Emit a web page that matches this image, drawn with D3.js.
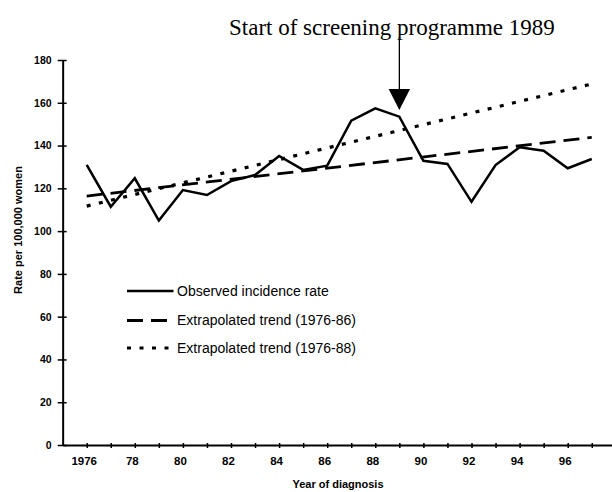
<!DOCTYPE html>
<html>
<head>
<meta charset="utf-8">
<script src="https://cdn.jsdelivr.net/npm/d3@7"></script>
<style>
  html, body { margin: 0; padding: 0; background: #fff; }
  svg { display: block; }
</style>
</head>
<body>
<div id="chart"></div>
<script>
// Chart data.
const years = [1976, 1977, 1978, 1979, 1980, 1981, 1982, 1983, 1984, 1985, 1986,
  1987, 1988, 1989, 1990, 1991, 1992, 1993, 1994, 1995, 1996, 1997];
const observedRates = [131, 111.4, 124.7, 104.9, 119.2, 116.9, 123.4, 126.2, 135.1, 128.6, 130.6,
  151.6, 157.4, 153.5, 132.9, 131.4, 113.7, 130.9, 139.2, 137.6, 129.4, 133.7];

// Trend lines are straight, so only their end points are kept.
const trendYears = [1976, 1997];
const trend7686 = [116.4, 143.8];
const trend7688 = [111.7, 168.8];

const yTicks = [0, 20, 40, 60, 80, 100, 120, 140, 160, 180];
const xTickYears = [1976, 1978, 1980, 1982, 1984, 1986, 1988, 1990, 1992, 1994, 1996];
const xTickLabels = ['1976', '78', '80', '82', '84', '86', '88', '90', '92', '94', '96'];

const legendLabels = [
  'Observed incidence rate',
  'Extrapolated trend (1976-86)',
  'Extrapolated trend (1976-88)'
];
const screeningYear = 1989;
const titleText = 'Start of screening programme 1989';

const attrs = {
  svgWidth: 612,
  svgHeight: 492,
  sans: '"Liberation Sans", Arial, sans-serif',
  serif: '"Liberation Serif", "Times New Roman", serif'
};

const svg = d3.select('#chart').append('svg')
  .attr('width', attrs.svgWidth)
  .attr('height', attrs.svgHeight);

// Scales.
const x = d3.scaleLinear()
  .domain([1975, 1998])
  .range([62.65, 62.65 + 23 * 24.05]);

const y = d3.scaleLinear()
  .domain([0, 180])
  .range([445, 60]);

// Y axis, ticks cross the axis line.
const yAxis = svg.append('g')
  .attr('transform', 'translate(' + x(1975) + ',0)')
  .call(d3.axisLeft(y).tickValues(yTicks).tickSize(5).tickPadding(6).tickSizeOuter(0));

yAxis.select('.domain').attr('stroke', '#000').attr('stroke-width', 2);
yAxis.selectAll('.tick line').attr('x1', 4).attr('x2', -5).attr('stroke-width', 1.5);
yAxis.selectAll('.tick text')
  .attr('font-family', attrs.sans)
  .attr('font-weight', 'bold')
  .attr('font-size', 10.5)
  .attr('fill', '#000');

// X axis, a tick every year, a label every other year.
const labelByYear = new Map(xTickYears.map((d, i) => [d, xTickLabels[i]]));
const allTickYears = d3.range(1976, 1998);

const xAxis = svg.append('g')
  .attr('transform', 'translate(0,' + y(0) + ')')
  .call(d3.axisBottom(x)
    .tickValues(allTickYears)
    .tickFormat(d => labelByYear.get(d) || '')
    .tickSize(3)
    .tickPadding(9)
    .tickSizeOuter(0));

xAxis.select('.domain').attr('stroke', '#000').attr('stroke-width', 2);
xAxis.selectAll('.tick line').attr('y1', -2).attr('stroke-width', 1.5);
xAxis.selectAll('.tick text')
  .attr('dx', -3)
  .attr('font-family', attrs.sans)
  .attr('font-weight', 'bold')
  .attr('font-size', 11.5)
  .attr('fill', '#000');

// Axis titles.
svg.append('text')
  .attr('x', 338)
  .attr('y', 488)
  .attr('text-anchor', 'middle')
  .attr('font-family', attrs.sans)
  .attr('font-weight', 'bold')
  .attr('font-size', 11)
  .text('Year of diagnosis');

svg.append('text')
  .attr('transform', 'translate(21.5,230) rotate(-90)')
  .attr('text-anchor', 'middle')
  .attr('font-family', attrs.sans)
  .attr('font-weight', 'bold')
  .attr('font-size', 11)
  .text('Rate per 100,000 women');

// Lines.
const line = d3.line()
  .x(d => x(d[0]))
  .y(d => y(d[1]));

const series = [
  { values: d3.zip(trendYears, trend7688), dash: '4 8.5', width: 3.2 },
  { values: d3.zip(trendYears, trend7686), dash: '16 8', width: 2.8 },
  { values: d3.zip(years, observedRates), dash: null, width: 2.5 }
];

svg.append('g').selectAll('path')
  .data(series)
  .join('path')
  .attr('d', d => line(d.values))
  .attr('fill', 'none')
  .attr('stroke', '#000')
  .attr('stroke-width', d => d.width)
  .attr('stroke-linejoin', 'miter')
  .attr('stroke-dasharray', d => d.dash);

// Legend.
const legendStyles = [series[2], series[1], series[0]];
const legend = svg.append('g').selectAll('g')
  .data(legendLabels)
  .join('g')
  .attr('transform', (d, i) => 'translate(127,' + [291, 320.5, 348][i] + ')');

legend.append('line')
  .attr('x1', 0)
  .attr('x2', 46.5)
  .attr('stroke', '#000')
  .attr('stroke-width', (d, i) => legendStyles[i].width)
  .attr('stroke-dasharray', (d, i) => legendStyles[i].dash);

legend.append('text')
  .attr('x', 50)
  .attr('dy', '0.35em')
  .attr('font-family', attrs.sans)
  .attr('font-size', 14)
  .text(d => d);

// Annotation: arrow marking the start of screening.
const ax = x(screeningYear);

svg.append('text')
  .attr('x', 229)
  .attr('y', 34.5)
  .attr('font-family', attrs.serif)
  .attr('font-size', 23)
  .text(titleText);

svg.append('line')
  .attr('x1', ax)
  .attr('x2', ax)
  .attr('y1', 37)
  .attr('y2', 90)
  .attr('stroke', '#000')
  .attr('stroke-width', 1.3);

svg.append('path')
  .attr('d', 'M' + (ax - 10.7) + ',89L' + (ax + 10.7) + ',89L' + ax + ',110Z')
  .attr('fill', '#000');
</script>
</body>
</html>
